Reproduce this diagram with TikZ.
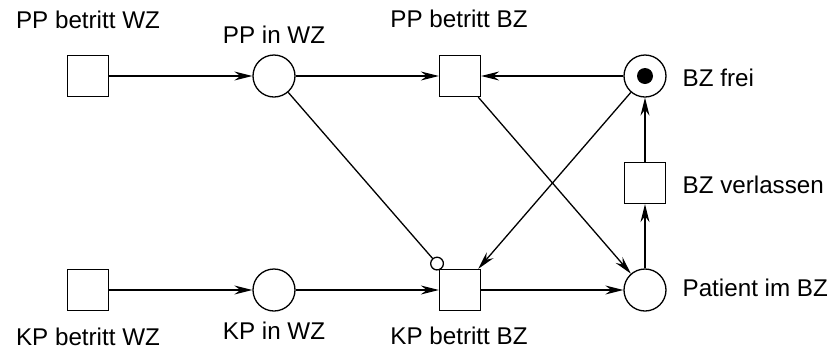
\documentclass[tikz,border=0pt]{standalone}
\usepackage{fontspec}
\setmainfont{Liberation Sans}
\usetikzlibrary{arrows.meta}
\begin{document}
\begin{tikzpicture}[x=0.5pt,y=-0.5pt,
  line width=0.65pt,
  transition/.style={draw, rectangle, minimum size=20.5pt, inner sep=0pt},
  place/.style={draw, circle, minimum size=21pt, inner sep=0pt},
  lbl/.style={font=\fontsize{12.1pt}{14pt}\selectfont, inner sep=0pt},
  arc/.style={-{Stealth[length=9pt,width=4.5pt,inset=3pt]}},
  inhibit/.style={-{Circle[open,length=7pt,width=7pt]}},
  token/.style={fill, circle, minimum size=8pt, inner sep=0pt}]
\useasboundingbox (0,0) rectangle (832,349);

% places and transitions
\node[transition] (tppwz) at (88,76) {};
\node[place]      (pppwz) at (274,76) {};
\node[transition] (tppbz) at (460,76) {};
\node[place]      (pfrei) at (645,76) {};
\node[token]      (tok)   at (645,76) {};
\node[transition] (tverl) at (645,183) {};
\node[transition] (tkpwz) at (88,290) {};
\node[place]      (pkpwz) at (274,290) {};
\node[transition] (tkpbz) at (460,290) {};
\node[place]      (ppat)  at (645,290) {};

% labels
\node[lbl] (l1) at (88,20)  {PP betritt WZ};
\node[lbl] (l2) at (274,35) {PP in WZ};
\node[lbl] (l3) at (459,19) {PP betritt BZ};
\node[lbl, anchor=west] (l4) at (682,78)  {BZ frei};
\node[lbl, anchor=west] (l5) at (682,185) {BZ verlassen};
\node[lbl, anchor=west] (l6) at (682,288) {Patient im BZ};
\node[lbl] (l7) at (88,337)  {KP betritt WZ};
\node[lbl] (l8) at (274,331) {KP in WZ};
\node[lbl] (l9) at (459,336) {KP betritt BZ};

% arcs
\draw[arc] (tppwz) -- (pppwz);
\draw[arc] (pppwz) -- (tppbz);
\draw[arc] (pfrei) -- (tppbz);
\draw[arc] (tkpwz) -- (pkpwz);
\draw[arc] (pkpwz) -- (tkpbz);
\draw[arc] (tkpbz) -- (ppat);
\draw[arc] (tppbz) -- (ppat);
\draw[arc] (pfrei) -- (tkpbz);
\draw[arc] (ppat) -- (tverl);
\draw[arc] (tverl) -- (pfrei);
\draw[inhibit] (pppwz) -- (tkpbz);
\end{tikzpicture}
\end{document}
